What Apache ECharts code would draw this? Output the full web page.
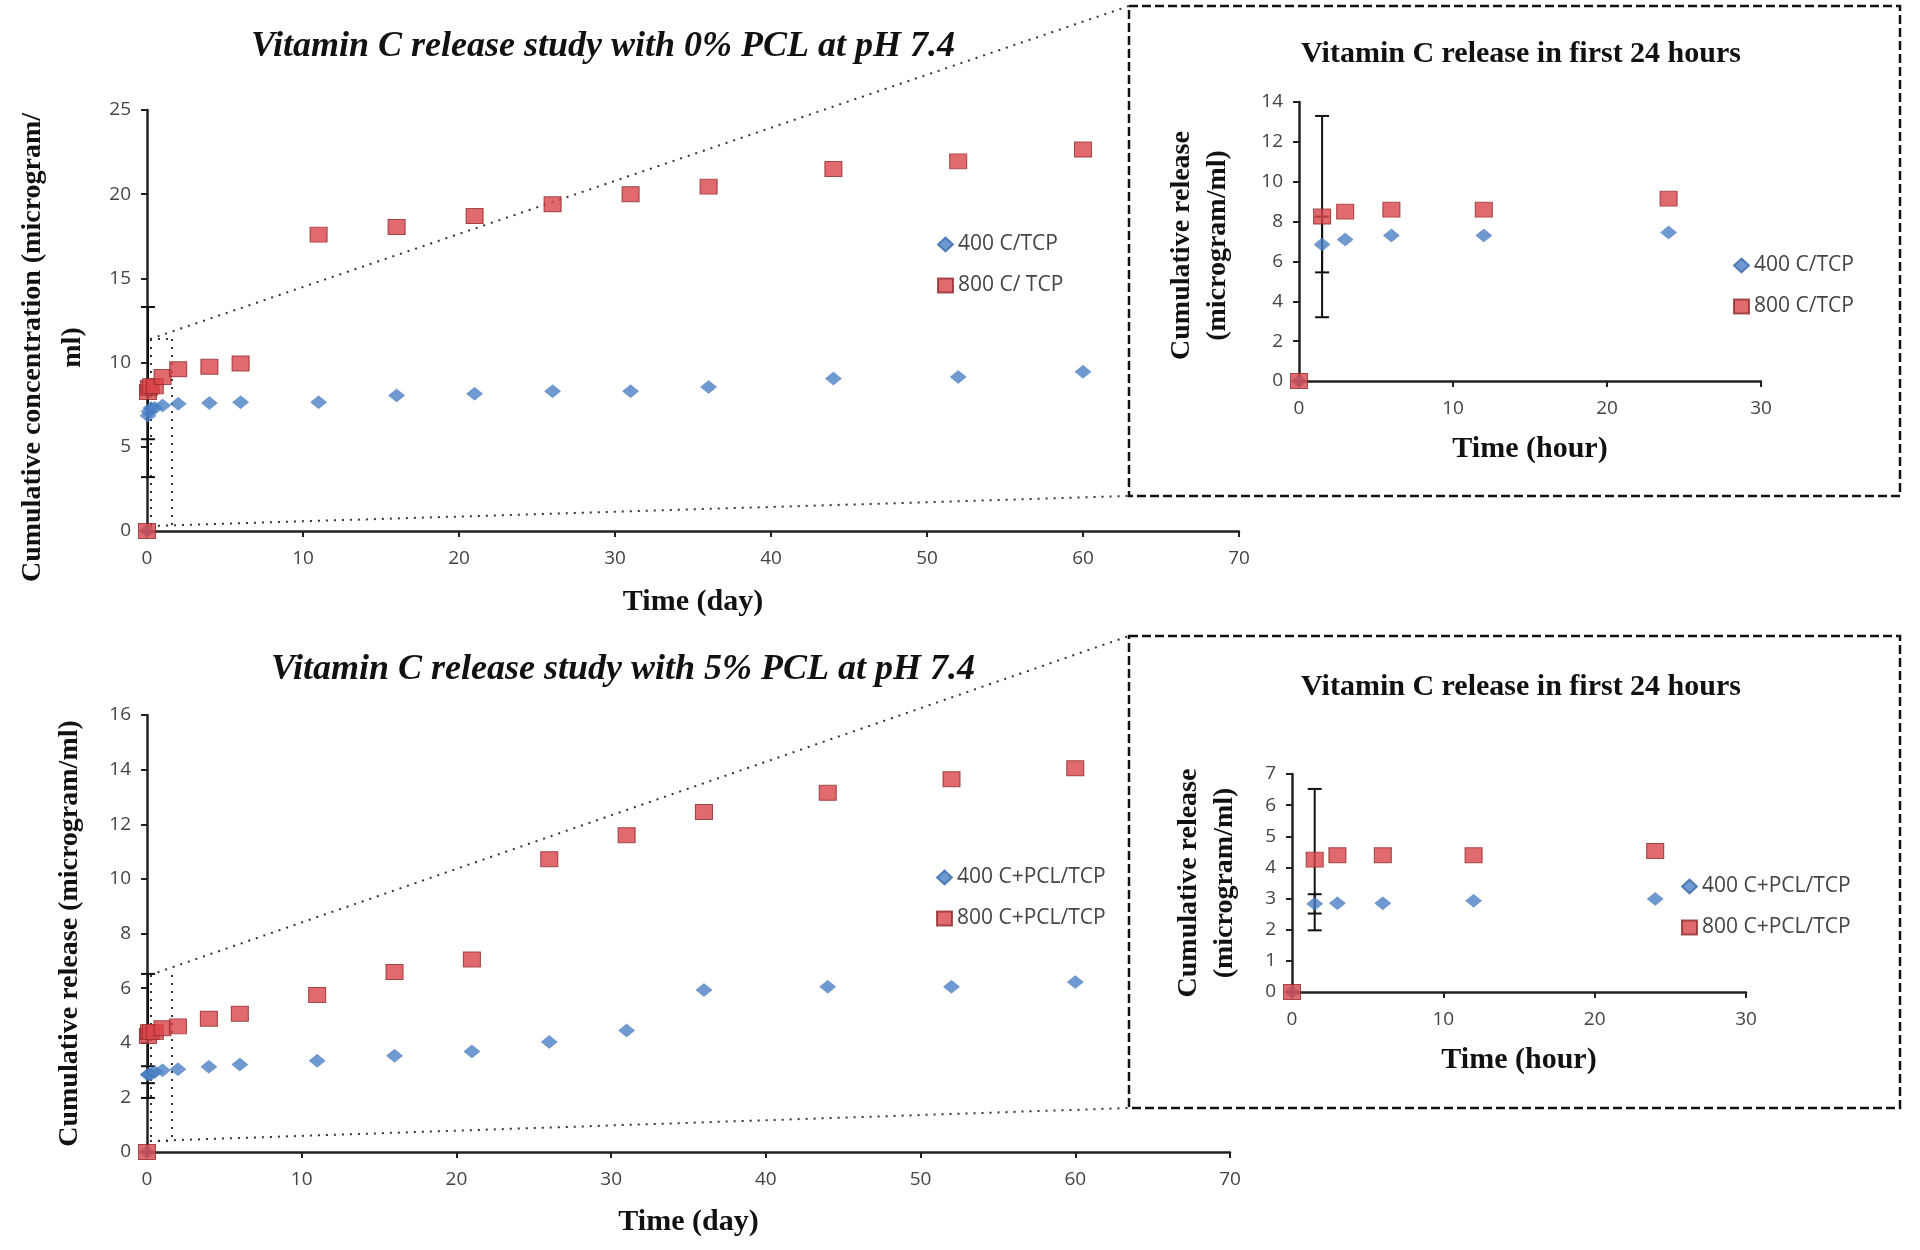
<!DOCTYPE html>
<html>
<head>
<meta charset="utf-8">
<script src="https://cdn.jsdelivr.net/npm/echarts@6/dist/echarts.min.js"></script>
<style>
    html, body { margin: 0; padding: 0; background: #fff; }
    #chart { width: 1920px; height: 1250px; }
</style>
</head>
<body>
<div id="chart"></div>
<script>
// time points (days); the first six are 0, 1.5, 3, 6, 12, 24 hours
const daysX = [0, 0.0625, 0.125, 0.25, 0.5, 1, 2, 4, 6, 11, 16, 21, 26, 31, 36, 44, 52, 60];
const hoursX = [0, 1.5, 3, 6, 12, 24];

// 0% PCL
const top400 = [0, 6.85, 7.1, 7.3, 7.3, 7.45, 7.55, 7.6, 7.65, 7.65, 8.05, 8.15, 8.3, 8.3, 8.55, 9.05, 9.15, 9.45];
const top800 = [0, 8.25, 8.5, 8.6, 8.6, 9.15, 9.6, 9.75, 9.95, 17.6, 18.05, 18.7, 19.4, 20.0, 20.45, 21.5, 21.95, 22.65];
const top400Err = [0, 1.4, 0, 0, 0, 0];
const top800Err = [0, 5.05, 0, 0, 0, 0];

// 5% PCL
const bot400 = [0, 2.83, 2.85, 2.85, 2.93, 2.99, 3.03, 3.12, 3.2, 3.34, 3.52, 3.68, 4.03, 4.45, 5.93, 6.05, 6.05, 6.22];
const bot800 = [0, 4.25, 4.39, 4.39, 4.39, 4.53, 4.6, 4.88, 5.06, 5.75, 6.59, 7.05, 10.72, 11.6, 12.45, 13.15, 13.65, 14.05];
const bot400Err = [0, 0.31, 0, 0, 0, 0];
const bot800Err = [0, 2.27, 0, 0, 0, 0];

const BLUE = '#4a7fc6';
const RED = '#d9454a';
const serif = '"Liberation Serif", "Times New Roman", serif';
const sans = '"Open Sans", "DejaVu Sans", sans-serif';

const chart = echarts.init(document.getElementById('chart'));

function pts(xs, ys) {
    return xs.map((x, i) => [x, ys[i]]);
}

function errData(xs, ys, errs) {
    const out = [];
    errs.forEach((e, i) => {
        if (e > 0) out.push([xs[i], ys[i] - e, ys[i] + e]);
    });
    return out;
}

function errSeries(idx, data) {
    return {
        type: 'custom',
        xAxisIndex: idx,
        yAxisIndex: idx,
        z: 1,
        silent: true,
        data: data,
        renderItem: function (params, api) {
            const lo = api.coord([api.value(0), api.value(1)]);
            const hi = api.coord([api.value(0), api.value(2)]);
            const w = 7;
            const st = { stroke: '#111', lineWidth: 2 };
            return {
                type: 'group',
                children: [
                    { type: 'line', shape: { x1: lo[0], y1: lo[1], x2: hi[0], y2: hi[1] }, style: st },
                    { type: 'line', shape: { x1: lo[0] - w, y1: lo[1], x2: lo[0] + w, y2: lo[1] }, style: st },
                    { type: 'line', shape: { x1: hi[0] - w, y1: hi[1], x2: hi[0] + w, y2: hi[1] }, style: st }
                ]
            };
        }
    };
}

function scatter(idx, name, data, isRed) {
    return {
        type: 'scatter',
        name: name,
        xAxisIndex: idx,
        yAxisIndex: idx,
        z: 3,
        symbol: isRed ? 'rect' : 'diamond',
        symbolSize: isRed ? [17, 15] : [16, 13],
        itemStyle: isRed
            ? { color: RED, borderColor: '#8e2a2c', borderWidth: 1 }
            : { color: BLUE, borderColor: '#3a6aa8', borderWidth: 0.5 },
        data: data
    };
}

function xAxis(idx, max, name, gap) {
    return {
        type: 'value', gridIndex: idx, min: 0, max: max, interval: 10,
        name: name, nameLocation: 'middle', nameGap: gap,
        nameTextStyle: { fontFamily: serif, fontWeight: 'bold', fontSize: 30, color: '#111' },
        axisLine: { onZero: false, lineStyle: { color: '#222', width: 2.5 } },
        axisTick: { length: 6, lineStyle: { color: '#222', width: 2 } },
        axisLabel: { fontFamily: sans, fontSize: 19, color: '#444', margin: 18 },
        splitLine: { show: false }
    };
}

function yAxis(idx, max, step, name, gap, lh, pad) {
    return {
        type: 'value', gridIndex: idx, min: 0, max: max, interval: step,
        name: name, nameLocation: 'middle', nameGap: gap,
        nameTextStyle: {
            fontFamily: serif, fontWeight: 'bold', fontSize: 28, color: '#111',
            lineHeight: lh, padding: [0, pad || 0, 0, 0]
        },
        axisLine: { lineStyle: { color: '#222', width: 2.5 } },
        axisTick: { length: 6, lineStyle: { color: '#222', width: 2 } },
        axisLabel: { fontFamily: sans, fontSize: 19, color: '#444', margin: 16 },
        splitLine: { show: false }
    };
}

function legend(left, top, names) {
    return {
        left: left, top: top, orient: 'vertical', itemGap: 20,
        itemWidth: 15, itemHeight: 14,
        textStyle: { fontFamily: sans, fontSize: 21, color: '#444' },
        data: [
            { name: names[0], icon: 'diamond', itemStyle: { color: BLUE } },
            { name: names[1], icon: 'rect', itemStyle: { color: RED } }
        ],
        selectedMode: false
    };
}

const titleMain = { fontFamily: serif, fontWeight: 'bold', fontStyle: 'italic', fontSize: 36, color: '#111' };
const titleInset = { fontFamily: serif, fontWeight: 'bold', fontSize: 30, color: '#111' };
const dotted = { stroke: '#333', lineWidth: 2, lineDash: [2, 6] };
const dashed = { stroke: '#111', fill: null, lineWidth: 2.5, lineDash: [9, 4] };

chart.setOption({
    animation: false,
    backgroundColor: '#fff',
    title: [
        { text: 'Vitamin C release study with 0% PCL at pH 7.4', left: 598, top: 24, textAlign: 'center', textStyle: titleMain },
        { text: 'Vitamin C release study with 5% PCL at pH 7.4', left: 618, top: 647, textAlign: 'center', textStyle: titleMain },
        { text: 'Vitamin C release in first 24 hours', left: 1516, top: 34, textAlign: 'center', textStyle: titleInset },
        { text: 'Vitamin C release in first 24 hours', left: 1516, top: 667, textAlign: 'center', textStyle: titleInset }
    ],
    legend: [
        legend(932, 229, ['400 C/TCP', '800 C/ TCP']),
        legend(1728, 250, ['400 C/TCP', '800 C/TCP']),
        legend(931, 862, ['400 C+PCL/TCP', '800 C+PCL/TCP']),
        legend(1676, 871, ['400 C+PCL/TCP', '800 C+PCL/TCP'])
    ],
    grid: [
        { left: 147, top: 110, width: 1092, height: 421 },
        { left: 1299, top: 102, width: 462, height: 279 },
        { left: 147, top: 715, width: 1083, height: 437 },
        { left: 1292, top: 774, width: 454, height: 218 }
    ],
    xAxis: [
        xAxis(0, 70, 'Time (day)', 56),
        xAxis(1, 30, 'Time (hour)', 53),
        xAxis(2, 70, 'Time (day)', 55),
        xAxis(3, 30, 'Time (hour)', 53)
    ],
    yAxis: [
        yAxis(0, 25, 5, 'Cumulative concentration (microgram/\nml)', 54, 40, 54),
        yAxis(1, 14, 2, 'Cumulative release\n(microgram/ml)', 63, 36, 8),
        yAxis(2, 16, 2, 'Cumulative release (microgram/ml)', 62, 30),
        yAxis(3, 7, 1, 'Cumulative release\n(microgram/ml)', 49, 36)
    ],
    graphic: [
        { type: 'rect', shape: { x: 1129, y: 6, width: 771, height: 490 }, style: dashed },
        { type: 'rect', shape: { x: 1129, y: 636, width: 771, height: 472 }, style: dashed },
        // zoom guides, top
        { type: 'line', shape: { x1: 150, y1: 339, x2: 1129, y2: 6 }, style: dotted },
        { type: 'line', shape: { x1: 150, y1: 526, x2: 1129, y2: 496 }, style: dotted },
        { type: 'line', shape: { x1: 151, y1: 339, x2: 151, y2: 528 }, style: dotted },
        { type: 'line', shape: { x1: 172, y1: 339, x2: 172, y2: 528 }, style: dotted },
        { type: 'line', shape: { x1: 150, y1: 339, x2: 172, y2: 339 }, style: dotted },
        // zoom guides, bottom
        { type: 'line', shape: { x1: 150, y1: 975, x2: 1129, y2: 636 }, style: dotted },
        { type: 'line', shape: { x1: 150, y1: 1141, x2: 1129, y2: 1108 }, style: dotted },
        { type: 'line', shape: { x1: 151, y1: 975, x2: 151, y2: 1141 }, style: dotted },
        { type: 'line', shape: { x1: 172, y1: 975, x2: 172, y2: 1141 }, style: dotted },
        { type: 'line', shape: { x1: 150, y1: 1141, x2: 172, y2: 1141 }, style: dotted }
    ],
    series: [
        errSeries(0, errData(daysX, top400, top400Err)),
        errSeries(0, errData(daysX, top800, top800Err)),
        scatter(0, '400 C/TCP', pts(daysX, top400), false),
        scatter(0, '800 C/ TCP', pts(daysX, top800), true),

        errSeries(1, errData(hoursX, top400, top400Err)),
        errSeries(1, errData(hoursX, top800, top800Err)),
        scatter(1, '400 C/TCP', pts(hoursX, top400.slice(0, 6)), false),
        scatter(1, '800 C/TCP', pts(hoursX, top800.slice(0, 6)), true),

        errSeries(2, errData(daysX, bot400, bot400Err)),
        errSeries(2, errData(daysX, bot800, bot800Err)),
        scatter(2, '400 C+PCL/TCP', pts(daysX, bot400), false),
        scatter(2, '800 C+PCL/TCP', pts(daysX, bot800), true),

        errSeries(3, errData(hoursX, bot400, bot400Err)),
        errSeries(3, errData(hoursX, bot800, bot800Err)),
        scatter(3, '400 C+PCL/TCP', pts(hoursX, bot400.slice(0, 6)), false),
        scatter(3, '800 C+PCL/TCP', pts(hoursX, bot800.slice(0, 6)), true)
    ]
});
</script>
</body>
</html>
